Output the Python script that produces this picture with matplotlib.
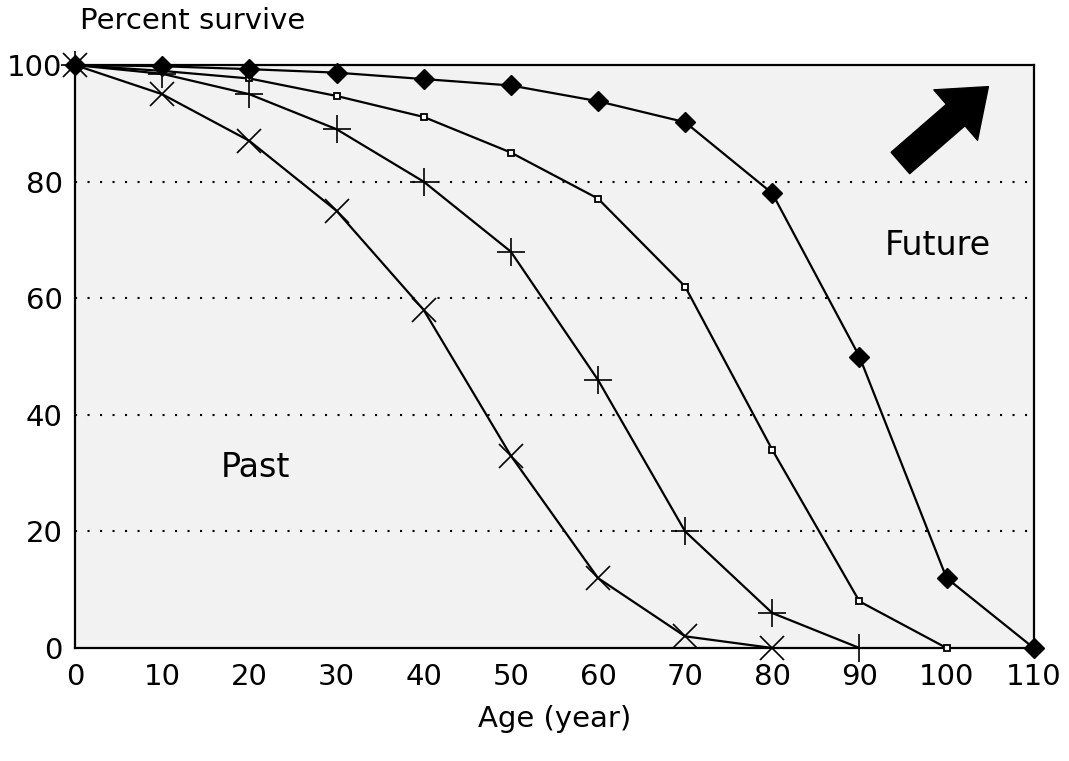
import matplotlib
matplotlib.use("Agg")
import matplotlib.pyplot as plt

# Data
age = [0, 10, 20, 30, 40, 50, 60, 70, 80, 90, 100, 110]
survive_cross = [100, 95, 87, 75, 58, 33, 12, 2, 0]
survive_plus = [100, 98.5, 95, 89, 80, 68, 46, 20, 6, 0]
survive_square = [100, 99, 97.7, 94.7, 91.1, 85, 77.1, 62, 34, 8, 0]
survive_diamond = [100, 99.8, 99.3, 98.7, 97.6, 96.5, 93.8, 90.2, 78, 50, 12, 0]

y_ticks = [0, 20, 40, 60, 80, 100]
x_ticks = age

plt.rcParams["font.family"] = ["DejaVu Sans"]

fig = plt.figure(figsize=(10.69, 7.61), dpi=100)
ax = fig.add_axes([0.0702, 0.1485, 0.8968, 0.766])

ax.set_facecolor("#f2f2f2")

# Dotted grid lines
for yv in y_ticks[1:-1]:
    ax.axhline(yv, color="black", linestyle=(0, (1, 5)), linewidth=1.5, zorder=1)

line_kw = dict(color="black", linewidth=1.6, zorder=3, clip_on=False)
ax.plot(age[: len(survive_cross)], survive_cross, marker="x", markersize=17,
        markeredgewidth=1.2, **line_kw)
ax.plot(age[: len(survive_plus)], survive_plus, marker="+", markersize=20,
        markeredgewidth=1.2, **line_kw)
ax.plot(age[: len(survive_square)], survive_square, marker="s", markersize=5,
        markerfacecolor="white", markeredgewidth=1.3, **line_kw)
ax.plot(age, survive_diamond, marker="D", markersize=10, markerfacecolor="black",
        **line_kw)

# Arrow pointing to the future
ax.annotate("", xy=(104.8, 96.3), xytext=(94.7, 83.2),
            arrowprops=dict(arrowstyle="simple,head_length=1.3,head_width=2.0,tail_width=0.85",
                            color="black", shrinkA=0, shrinkB=0, mutation_scale=24),
            zorder=4)

ax.text(99, 69, "Future", fontsize=24, ha="center", va="center", zorder=4)
ax.text(20.7, 31, "Past", fontsize=24, ha="center", va="center", zorder=4)

ax.set_xlim(0, 110)
ax.set_ylim(0, 100)
ax.set_xticks(x_ticks)
ax.set_yticks(y_ticks)
ax.tick_params(length=0, labelsize=21)
ax.tick_params(axis="x", pad=11)
ax.tick_params(axis="y", pad=9)
for spine in ax.spines.values():
    spine.set_linewidth(1.6)

fig.text(0.180, 0.972, "Percent survive", fontsize=21, ha="center", va="center")
fig.text(0.519, 0.055, "Age (year)", fontsize=21, ha="center", va="center")

fig.savefig("out.png", dpi=100)
plt.close()
